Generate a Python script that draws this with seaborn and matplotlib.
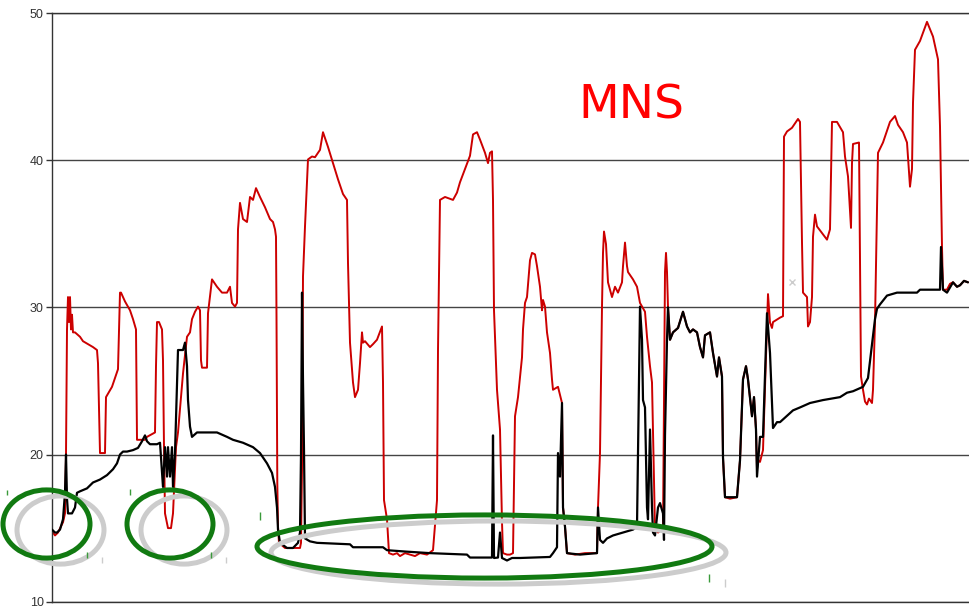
import matplotlib
matplotlib.use("Agg")
import matplotlib.pyplot as plt
from matplotlib.patches import Ellipse
import seaborn as sns
import pandas as pd

# sample position along the track (no x labels in the original)
red_t = [1, 3, 6, 11, 13, 14, 15, 16, 17, 18,
         19, 20, 21, 23, 28, 31, 36, 41, 45, 46,
         48, 53, 54, 60, 66, 68, 69, 73, 78, 81,
         84, 85, 93, 95, 103, 104, 105, 107, 110, 111,
         112, 113, 116, 119, 121, 124, 126, 131, 135, 138,
         140, 143, 146, 148, 149, 150, 155, 156, 160, 165,
         170, 175, 178, 180, 183, 185, 186, 188, 191, 195,
         198, 201, 204, 208, 213, 218, 221, 223, 224, 224.5,
         225.3, 226, 227, 233, 248, 249, 250, 251, 253, 256,
         260, 263, 268, 271, 276, 281, 286, 291, 295, 296,
         298, 301, 303, 306, 308, 310, 311, 313, 318, 321,
         325, 330, 331, 332, 335, 337, 341, 345, 348, 353,
         358, 363, 368, 375, 381, 385, 386, 388, 393, 401,
         405, 408, 413, 418, 421, 425, 428, 433, 436, 438,
         440, 441, 442, 445, 448, 450, 451, 455, 458, 461,
         463, 466, 470, 471, 473, 475, 478, 480, 483, 485,
         488, 490, 491, 493, 495, 498, 500, 501, 506, 510,
         511, 513, 515, 523, 533, 545, 546, 548, 550, 551,
         552, 554, 556, 560, 563, 566, 570, 571, 573, 575,
         576, 581, 585, 588, 593, 595, 598, 600, 601, 603,
         606, 611, 612, 613, 614, 615, 616, 618, 621, 626,
         631, 635, 638, 641, 645, 648, 651, 653, 658, 661,
         665, 667, 670, 671, 673, 678, 685, 688, 691, 694,
         696, 700, 702, 704, 705, 706, 708, 711, 715, 716,
         718, 720, 721, 728, 731, 732, 735, 740, 746, 748,
         750, 751, 755, 756, 758, 760, 761, 763, 765, 775,
         778, 780, 785, 791, 793, 796, 798, 799, 800, 801,
         807, 809, 811, 813, 815, 817, 820, 821, 823, 825,
         826, 831, 838, 843, 846, 851, 855, 858, 860, 861,
         863, 868, 875, 881, 886, 888, 890, 891, 895, 898,
         901, 905, 908, 912, 916]
red_v = [14.7, 14.5, 14.7, 15.4, 16.0, 20.0, 28.5, 30.7, 29.0, 30.7,
         28.5, 29.5, 28.3, 28.3, 28.0, 27.7, 27.5, 27.3, 27.1, 26.2,
         20.1, 20.1, 23.9, 24.6, 25.8, 31.0, 31.0, 30.4, 29.8, 29.2,
         28.5, 21.0, 21.0, 21.2, 21.5, 26.0, 29.0, 29.0, 28.5, 26.4,
         20.5, 16.0, 15.0, 15.0, 16.0, 20.5, 21.5, 25.5, 28.0, 28.3,
         29.2, 29.7, 30.05, 29.8, 26.4, 25.9, 25.9, 29.6, 31.9, 31.4,
         31.0, 31.0, 31.4, 30.3, 30.05, 30.3, 35.3, 37.1, 36.0, 35.8,
         37.5, 37.3, 38.1, 37.5, 36.8, 36.0, 35.8, 35.3, 34.8, 29.4,
         18.1, 15.1, 14.0, 13.65, 13.65, 14.0, 19.0, 32.1, 35.5, 40.05,
         40.25, 40.2, 40.7, 41.9, 40.9, 39.8, 38.7, 37.7, 37.3, 33.0,
         27.6, 24.9, 23.9, 24.4, 26.2, 28.3, 27.6, 27.7, 27.3, 27.5,
         27.8, 28.7, 24.9, 16.9, 15.6, 13.3, 13.2, 13.3, 13.1, 13.3,
         13.2, 13.1, 13.3, 13.2, 13.5, 16.9, 27.1, 37.3, 37.5, 37.3,
         37.8, 38.5, 39.4, 40.3, 41.75, 41.9, 41.4, 40.5, 39.8, 40.5,
         40.6, 37.3, 29.8, 24.4, 21.7, 15.4, 13.3, 13.2, 13.2, 13.3,
         22.6, 23.9, 26.6, 28.5, 30.3, 30.7, 33.2, 33.7, 33.6, 32.8,
         31.4, 29.8, 30.5, 30.05, 28.3, 26.9, 25.1, 24.4, 24.6, 23.5,
         16.4, 15.1, 13.3, 13.2, 13.3, 13.3, 16.4, 20.1, 30.05, 33.7,
         35.15, 34.3, 31.7, 30.7, 31.4, 31.0, 31.7, 32.8, 34.4, 32.8,
         32.4, 31.9, 31.4, 30.3, 29.7, 28.0, 26.0, 24.9, 21.5, 14.9,
         14.7, 14.9, 23.2, 32.4, 33.7, 32.4, 30.0, 27.8, 28.3, 28.6,
         29.7, 28.7, 28.3, 28.5, 28.3, 27.3, 26.6, 28.1, 28.3, 26.9,
         25.3, 26.6, 25.3, 19.8, 17.1, 17.0, 17.1, 19.6, 25.1, 26.0,
         25.1, 22.6, 23.9, 21.7, 19.0, 19.6, 19.5, 20.3, 28.96, 30.9,
         28.96, 28.6, 29.0, 29.3, 29.4, 41.6, 41.95, 42.2, 42.8, 42.6,
         34.4, 31.0, 30.7, 28.7, 29.0, 30.7, 34.8, 36.3, 35.5, 34.6,
         35.3, 42.6, 42.6, 41.9, 40.25, 38.9, 36.6, 35.4, 39.8, 41.1,
         41.2, 25.3, 24.4, 23.6, 23.4, 23.8, 23.5, 24.4, 29.0, 36.6,
         40.5, 41.2, 42.6, 43.0, 42.4, 41.9, 41.2, 38.2, 39.4, 43.9,
         47.5, 48.1, 49.4, 48.4, 46.85, 42.3, 34.1, 31.2, 31.2, 31.6,
         31.7, 31.4, 31.5, 31.8, 31.7]

black_t = [0, 3, 5, 8, 11, 13, 14, 15, 16, 20,
           23, 25, 28, 35, 41, 48, 55, 61, 65, 68,
           71, 75, 81, 86, 90, 93, 95, 98, 105, 108,
           111, 113, 115, 116, 118, 120, 121, 123, 125, 126,
           131, 133, 135, 136, 138, 140, 145, 155, 165, 175,
           181, 191, 201, 208, 215, 220, 223, 225, 226, 228,
           235, 241, 246, 248, 249, 250, 251, 252, 253, 258,
           265, 298, 301, 331, 335, 355, 378, 415, 418, 440,
           441, 442, 446, 448, 450, 455, 460, 468, 498, 501,
           505, 506, 508, 510, 511, 513, 515, 528, 545, 546,
           548, 551, 555, 561, 571, 581, 585, 586, 588, 590,
           591, 593, 595, 596, 598, 600, 601, 603, 606, 608,
           611, 612, 613, 615, 616, 618, 621, 626, 631, 635,
           638, 641, 645, 648, 651, 653, 658, 661, 665, 667,
           670, 671, 673, 678, 685, 688, 691, 694, 696, 700,
           702, 704, 705, 708, 711, 715, 718, 721, 725, 728,
           741, 748, 758, 771, 788, 795, 801, 811, 816, 820,
           823, 825, 828, 835, 845, 865, 868, 888, 889, 891,
           895, 901, 905, 908, 912, 916]
black_v = [14.9, 14.7, 14.7, 14.9, 15.6, 17.4, 20.0, 17.0, 16.0, 16.0,
           16.4, 17.4, 17.5, 17.7, 18.1, 18.3, 18.6, 19.0, 19.4, 20.0,
           20.2, 20.2, 20.3, 20.45, 20.9, 21.3, 20.9, 20.7, 20.7, 20.8,
           17.8, 20.5, 18.5, 20.5, 18.5, 20.5, 17.8, 20.1, 24.9, 27.1,
           27.1, 27.6, 26.0, 23.7, 21.9, 21.2, 21.5, 21.5, 21.5, 21.2,
           21.0, 20.8, 20.5, 20.1, 19.4, 18.75, 17.8, 16.4, 14.9, 14.0,
           13.65, 13.65, 14.0, 14.7, 20.0, 31.0, 25.0, 20.3, 14.3, 14.1,
           14.0, 13.9, 13.7, 13.7, 13.5, 13.4, 13.3, 13.2, 13.0, 13.0,
           21.3, 12.97, 13.0, 14.7, 12.97, 12.8, 12.97, 12.97, 13.04, 13.3,
           13.7, 20.1, 18.5, 23.5, 16.4, 15.1, 13.3, 13.2, 13.3, 16.4,
           14.2, 14.0, 14.3, 14.5, 14.7, 14.9, 15.1, 20.0, 30.05, 27.8,
           23.7, 23.2, 16.4, 15.6, 21.7, 16.4, 14.7, 14.5, 16.4, 16.7,
           16.0, 14.2, 21.3, 27.8, 30.0, 27.8, 28.3, 28.6, 29.7, 28.7,
           28.3, 28.5, 28.3, 27.3, 26.6, 28.1, 28.3, 26.9, 25.3, 26.6,
           25.3, 19.8, 17.1, 17.1, 17.1, 19.6, 25.1, 26.0, 25.1, 22.6,
           23.9, 21.7, 18.5, 21.2, 21.2, 29.6, 26.9, 21.8, 22.2, 22.2,
           23.0, 23.2, 23.5, 23.7, 23.9, 24.2, 24.3, 24.6, 25.2, 27.5,
           29.2, 29.9, 30.2, 30.8, 31.0, 31.0, 31.2, 31.2, 34.1, 31.2,
           31.0, 31.7, 31.4, 31.5, 31.8, 31.7]

y_ticks = [10, 20, 30, 40, 50]
label = "MNS"

red_df = pd.DataFrame({"t": red_t, "v": red_v})
black_df = pd.DataFrame({"t": black_t, "v": black_v})

sns.set_style("white")
plt.rcParams["font.family"] = ["Liberation Sans", "DejaVu Sans"]

fig = plt.figure(figsize=(9.69, 6.06), dpi=100)
ax = fig.add_axes([52 / 969, 4.3 / 606, 917 / 969, 588.7 / 606])

sns.lineplot(data=red_df, x="t", y="v", color="#cc0000", lw=1.4,
             estimator=None, sort=False, ax=ax, zorder=2)
sns.lineplot(data=black_df, x="t", y="v", color="black", lw=1.6,
             estimator=None, sort=False, ax=ax, zorder=3)

ax.set_xlim(0, 917)
ax.set_ylim(10, 50)
ax.set_xticks([])
ax.set_yticks(y_ticks)
ax.set_xlabel("")
ax.set_ylabel("")
ax.yaxis.grid(True, color="#444444", lw=1)
ax.set_axisbelow(True)
ax.tick_params(axis="y", left=True, length=4, width=1, color="#333333",
               labelsize=9, labelcolor="#333333", pad=2)
for s in ["left", "bottom", "top"]:
    ax.spines[s].set_color("#333333")
    ax.spines[s].set_linewidth(1)
ax.spines["right"].set_visible(False)

ax.text(526, 42.85, label, color="#ff0000", fontsize=34,
        family="DejaVu Sans", ha="left", va="baseline")

# hand-drawn highlight rings with grey shadows
rings = [(-5.5, 15.28, 87, 4.63), (118, 15.28, 86, 4.63), (432.5, 13.75, 455, 4.29)]
for cx, cy, w, h in rings:
    ax.add_patch(Ellipse((cx + 14, cy - 0.41), w, h, fill=False,
                         edgecolor="#cccccc", lw=3.6, clip_on=False, zorder=4))
    ax.add_patch(Ellipse((cx, cy), w, h, fill=False,
                         edgecolor="#117a11", lw=3.6, clip_on=False, zorder=5))

# little leftover handle marks
ax.vlines([-45, 78, 35, 159, 208, 657],
          [17.26, 17.26, 12.97, 12.97, 15.56, 11.34],
          [17.6, 17.67, 13.38, 13.38, 16.1, 11.88],
          color="#3a9a3a", lw=1, clip_on=False, zorder=5)
ax.vlines([50, 174, 673], [12.63, 12.63, 11.0], [13.04, 13.04, 11.54],
          color="#cccccc", lw=1, clip_on=False, zorder=5)
ax.plot([740], [31.75], marker="x", ms=4, color="#cccccc", lw=0)

fig.savefig("out.png", dpi=100)
